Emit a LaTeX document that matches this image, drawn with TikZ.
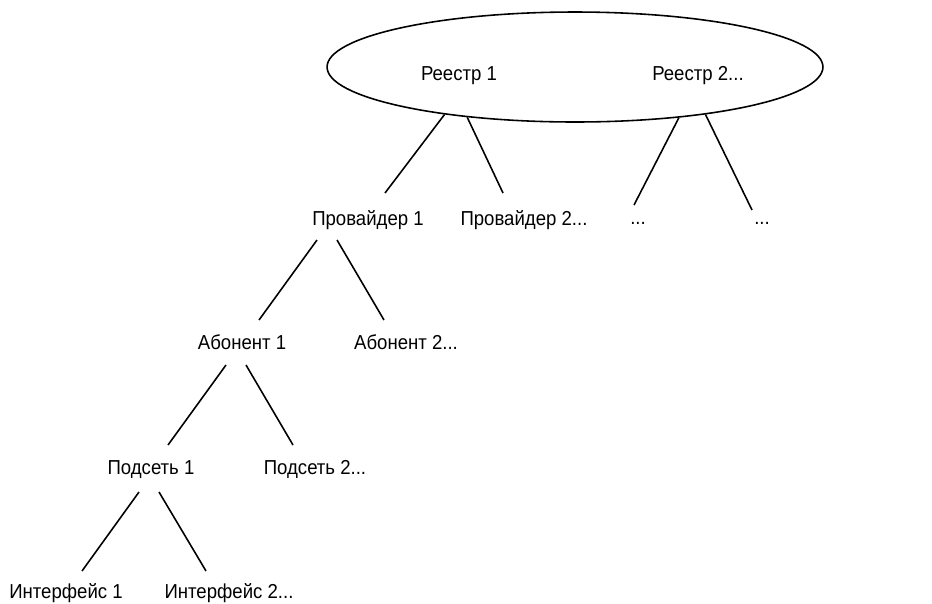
\documentclass[tikz,border=0pt]{standalone}
\usepackage{fontspec}
\setmainfont{Liberation Sans}[FakeStretch=0.92]
\usepackage{tikz}
\usetikzlibrary{shapes.geometric,calc}

\begin{document}
\begin{tikzpicture}[x=0.02cm, y=-0.02cm, line width=.9pt]
    \tikzstyle{lbl}=[inner sep=0, anchor=base, font=\fontsize{11.5}{13}\selectfont]
    \useasboundingbox (0,0) rectangle (932,603);
    % registries
    \node[draw, ellipse, minimum width=9.92cm, minimum height=2.2cm, inner sep=0] (reg) at (575,67) {};
    \node[lbl] (reg1) at (459,80) {Реестр 1};
    \node[lbl] (reg2) at (698,80) {Реестр 2...};
    % providers
    \node[lbl] (prov1) at (368,225) {Провайдер 1};
    \node[lbl] (prov2) at (524,225) {Провайдер 2...};
    \node[lbl] (dots1) at (638,224) {...};
    \node[lbl] (dots2) at (762,224) {...};
    % subscribers
    \node[lbl] (abon1) at (242,349) {Абонент 1};
    \node[lbl] (abon2) at (406,349) {Абонент 2...};
    % subnets
    \node[lbl] (pods1) at (151,474) {Подсеть 1};
    \node[lbl] (pods2) at (315,474) {Подсеть 2...};
    % interfaces
    \node[lbl] (int1) at (66,598) {Интерфейс 1};
    \node[lbl] (int2) at (229,598) {Интерфейс 2...};

    \draw (reg.200) -- ($(prov1.base)+(17,-32)$);
    \draw (reg.205) -- ($(prov2.base)+(-21,-32)$);
    \draw (reg.334) -- ($(dots1.base)+(-4,-19)$);
    \draw (reg.340) -- ($(dots2.base)+(-10,-14)$);

    \draw ($(prov1.base)+(-51,15)$) -- ($(abon1.base)+(17,-29)$);
    \draw ($(prov1.base)+(-31,15)$) -- ($(abon2.base)+(-22,-29)$);

    \draw ($(abon1.base)+(-16,16)$) -- ($(pods1.base)+(17,-29)$);
    \draw ($(abon1.base)+(4,16)$) -- ($(pods2.base)+(-22,-29)$);

    \draw ($(pods1.base)+(-12,18)$) -- ($(int1.base)+(16,-27)$);
    \draw ($(pods1.base)+(8,18)$) -- ($(int2.base)+(-23,-27)$);
\end{tikzpicture}
\end{document}
